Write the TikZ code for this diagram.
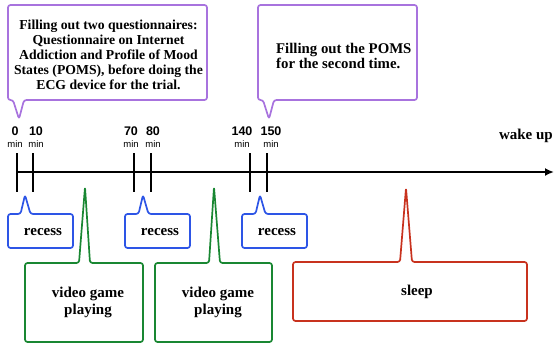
\documentclass[tikz,border=0pt]{standalone}
\usepackage{fontspec}
\usetikzlibrary{arrows.meta}
\setmainfont{Liberation Serif}
\setsansfont{Liberation Sans}
\definecolor{cpurple}{RGB}{168,115,222}
\definecolor{cblue}{RGB}{45,85,230}
\definecolor{cgreen}{RGB}{25,135,50}
\definecolor{cred}{RGB}{200,50,30}
\begin{document}
\begin{tikzpicture}[x=1pt,y=-1pt,
  callout/.style={line width=1.7pt,rounded corners=2.5pt,line join=round},
  txt/.style={font=\fontsize{15}{17}\selectfont\bfseries,align=center,inner sep=0pt},
  small/.style={font=\fontsize{13.7}{15}\selectfont\bfseries,align=center,inner sep=0pt},
  num/.style={font=\sffamily\bfseries\fontsize{12.5}{13}\selectfont,inner sep=0pt},
  unit/.style={font=\sffamily\fontsize{9.5}{10}\selectfont,inner sep=0pt},
  tick/.style={line width=1.6pt}]
\useasboundingbox (0,0) rectangle (554,343);
% top callouts
\draw[callout,cpurple] (13,100) -- (8,100) -- (8,5) -- (207,5) -- (207,100) -- (24,100) -- (19,119) -- cycle;
\node[small] (q1) at (108.5,55) {Filling out two questionnaires:\\Questionnaire on Internet\\Addiction and Profile of Mood\\States (POMS), before doing the\\ECG device for the trial.};
\draw[callout,cpurple] (263,100) -- (258,100) -- (258,5) -- (417,5) -- (417,100) -- (274,100) -- (269,119) -- cycle;
\node[small,font=\fontsize{14.8}{15}\selectfont\bfseries,align=left,anchor=west] (q2) at (276,55.5) {Filling out the POMS\\for the second time.};
% axis
\coordinate (start) at (16,172);
\coordinate (end) at (554,172);
\draw[line width=2.2pt,-{Latex[length=9pt,width=8pt]}] (start) -- (end);
\foreach \x/\lx/\n in {17/15/0,33/36/10,134/131/70,151/153/80,250/242/140,267/271/150}{
  \draw[tick] (\x,153) -- (\x,192);
  \node[num] (n\n) at (\lx,131) {\n};
  \node[unit] (m\n) at (\lx,144) {min};
}
\node[txt,anchor=east] (wake) at (553,136) {wake up};
% recess callouts
\foreach \l/\tx in {8/25,125/143,242/260}{
  \pgfmathsetmacro{\r}{\l+65}
  \pgfmathsetmacro{\a}{\tx-4.5}
  \pgfmathsetmacro{\b}{\tx+5.5}
  \draw[callout,cblue] (\a,214) -- (\l,214) -- (\l,248) -- (\r,248) -- (\r,214) -- (\b,214) -- (\tx,195) -- cycle;
  \node[txt] at (\l+35,232) {recess};
}
% video game callouts
\draw[callout,cgreen] (79,263) -- (25,263) -- (25,342) -- (143,342) -- (143,263) -- (90,263) -- (85,187) -- cycle;
\node[txt] (vg1) at (88,302) {video game\\playing};
\draw[callout,cgreen] (209,263) -- (155,263) -- (155,342) -- (272,342) -- (272,263) -- (220,263) -- (214,187) -- cycle;
\node[txt] (vg2) at (218,302) {video game\\playing};
% sleep
\draw[callout,cred] (400,262) -- (293,262) -- (293,321) -- (527,321) -- (527,262) -- (412,262) -- (406,188) -- cycle;
\node[txt] (sl) at (417,292) {sleep};
\end{tikzpicture}
\end{document}
